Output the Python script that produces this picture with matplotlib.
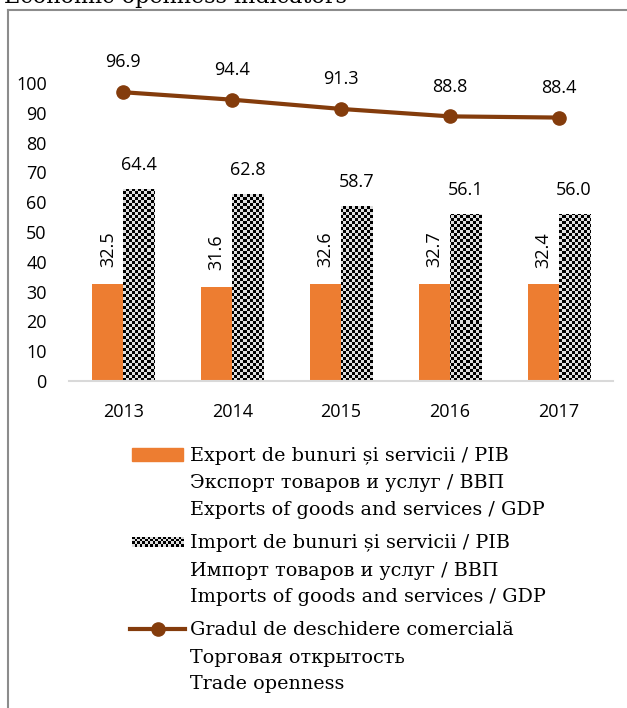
import matplotlib
matplotlib.use('Agg')
import matplotlib.pyplot as plt
import numpy as np
from matplotlib.patches import Rectangle
from matplotlib.lines import Line2D

years = ['2013', '2014', '2015', '2016', '2017']
exports = [32.5, 31.6, 32.6, 32.7, 32.4]
imports = [64.4, 62.8, 58.7, 56.1, 56.0]
openness = [96.9, 94.4, 91.3, 88.8, 88.4]

legend_labels = [
    ['Export de bunuri și servicii / PIB',
     'Экспорт товаров и услуг / ВВП',
     'Exports of goods and services / GDP'],
    ['Import de bunuri și servicii / PIB',
     'Импорт товаров и услуг / ВВП',
     'Imports of goods and services / GDP'],
    ['Gradul de deschidere comercială',
     'Торговая открытость',
     'Trade openness'],
]

ORANGE = '#ED7D31'
BROWN = '#843C0C'
W, H = 627, 708

def fx(px):
    return px / W

def fy(py):
    return 1 - py / H

num_font = 'Open Sans'
txt_font = 'DejaVu Serif'

fig = plt.figure(figsize=(W / 100, H / 100), dpi=100)
ax = fig.add_axes([fx(69), fy(381), fx(613) - fx(69), fy(83) - fy(381)])

x = np.arange(len(years))
bw = 0.285

bars_exp = ax.bar(x - bw / 2, exports, width=bw, color=ORANGE, zorder=2)
bars_imp = ax.bar(x + bw / 2, imports, width=bw, color='white', zorder=2)

# checkerboard fill for the import bars
cell = 3
nx, ny = 544 // cell, 298 // cell
checker = (np.add.outer(np.arange(ny), np.arange(nx)) % 2).astype(float)
for b in bars_imp:
    im = ax.imshow(checker, cmap='gray', vmin=0, vmax=1.15, extent=(-0.5, 4.5, 0, 100),
                   aspect='auto', interpolation='nearest', zorder=3)
    im.set_clip_path(b)

ax.plot(x, openness, color=BROWN, lw=3, marker='o', markersize=9.5, zorder=4,
        clip_on=False)

for xi, v in zip(x, exports):
    ax.annotate(f'{v:.1f}', (xi - bw / 2, v), xytext=(0, 12), textcoords='offset points',
                ha='center', va='bottom', rotation=90, fontsize=13, family=num_font)
for xi, v in zip(x, imports):
    ax.annotate(f'{v:.1f}', (xi + bw / 2, v), xytext=(0, 11), textcoords='offset points',
                ha='center', va='bottom', fontsize=13, family=num_font)
for xi, v in zip(x, openness):
    ax.annotate(f'{v:.1f}', (xi, v), xytext=(0, 15), textcoords='offset points',
                ha='center', va='bottom', fontsize=13, family=num_font)

ax.set_xlim(-0.5, 4.5)
ax.set_ylim(0, 100)
ax.set_yticks(range(0, 101, 10))
ax.set_xticks(x)
ax.set_xticklabels(years)
ax.tick_params(length=0, labelsize=13, pad=16)
for lab in ax.get_xticklabels() + ax.get_yticklabels():
    lab.set_family(num_font)
for s in ['top', 'right', 'left']:
    ax.spines[s].set_visible(False)
ax.spines['bottom'].set_color('#d9d9d9')
ax.spines['bottom'].set_linewidth(1.5)
ax.spines['bottom'].set_zorder(5)

# title cut off at the top edge, as in the source, plus the frame
fig.text(fx(4), fy(3), 'Economic openness indicators', fontsize=16, family=txt_font,
         va='baseline', ha='left')
fig.add_artist(Line2D([fx(8), fx(8)], [fy(10), 0], color='#8c8c8c', lw=1.5))
fig.add_artist(Line2D([fx(8), 1], [fy(10), fy(10)], color='#8c8c8c', lw=1.5))

# legend
fig.add_artist(Rectangle((fx(132), fy(461)), fx(183) - fx(132), fy(448) - fy(461),
                         transform=fig.transFigure, color=ORANGE))
lax = fig.add_axes([fx(132), fy(547), fx(183) - fx(132), fy(537) - fy(547)])
lax.imshow((np.add.outer(np.arange(4), np.arange(20)) % 2).astype(float), cmap='gray',
           vmin=0, vmax=1.15, aspect='auto', interpolation='nearest')
lax.axis('off')
fig.add_artist(Line2D([fx(130), fx(185)], [fy(629), fy(629)], color=BROWN, lw=3))
fig.add_artist(Line2D([fx(158)], [fy(629)], color=BROWN, marker='o', markersize=9.5))

baselines = [[461, 488, 515], [548, 576, 602], [635, 663, 689]]
for group, ys in zip(legend_labels, baselines):
    for line, yy in zip(group, ys):
        fig.text(fx(190), fy(yy), line, fontsize=13.8, family=txt_font,
                 va='baseline', ha='left')

fig.savefig('out.png', dpi=100)
